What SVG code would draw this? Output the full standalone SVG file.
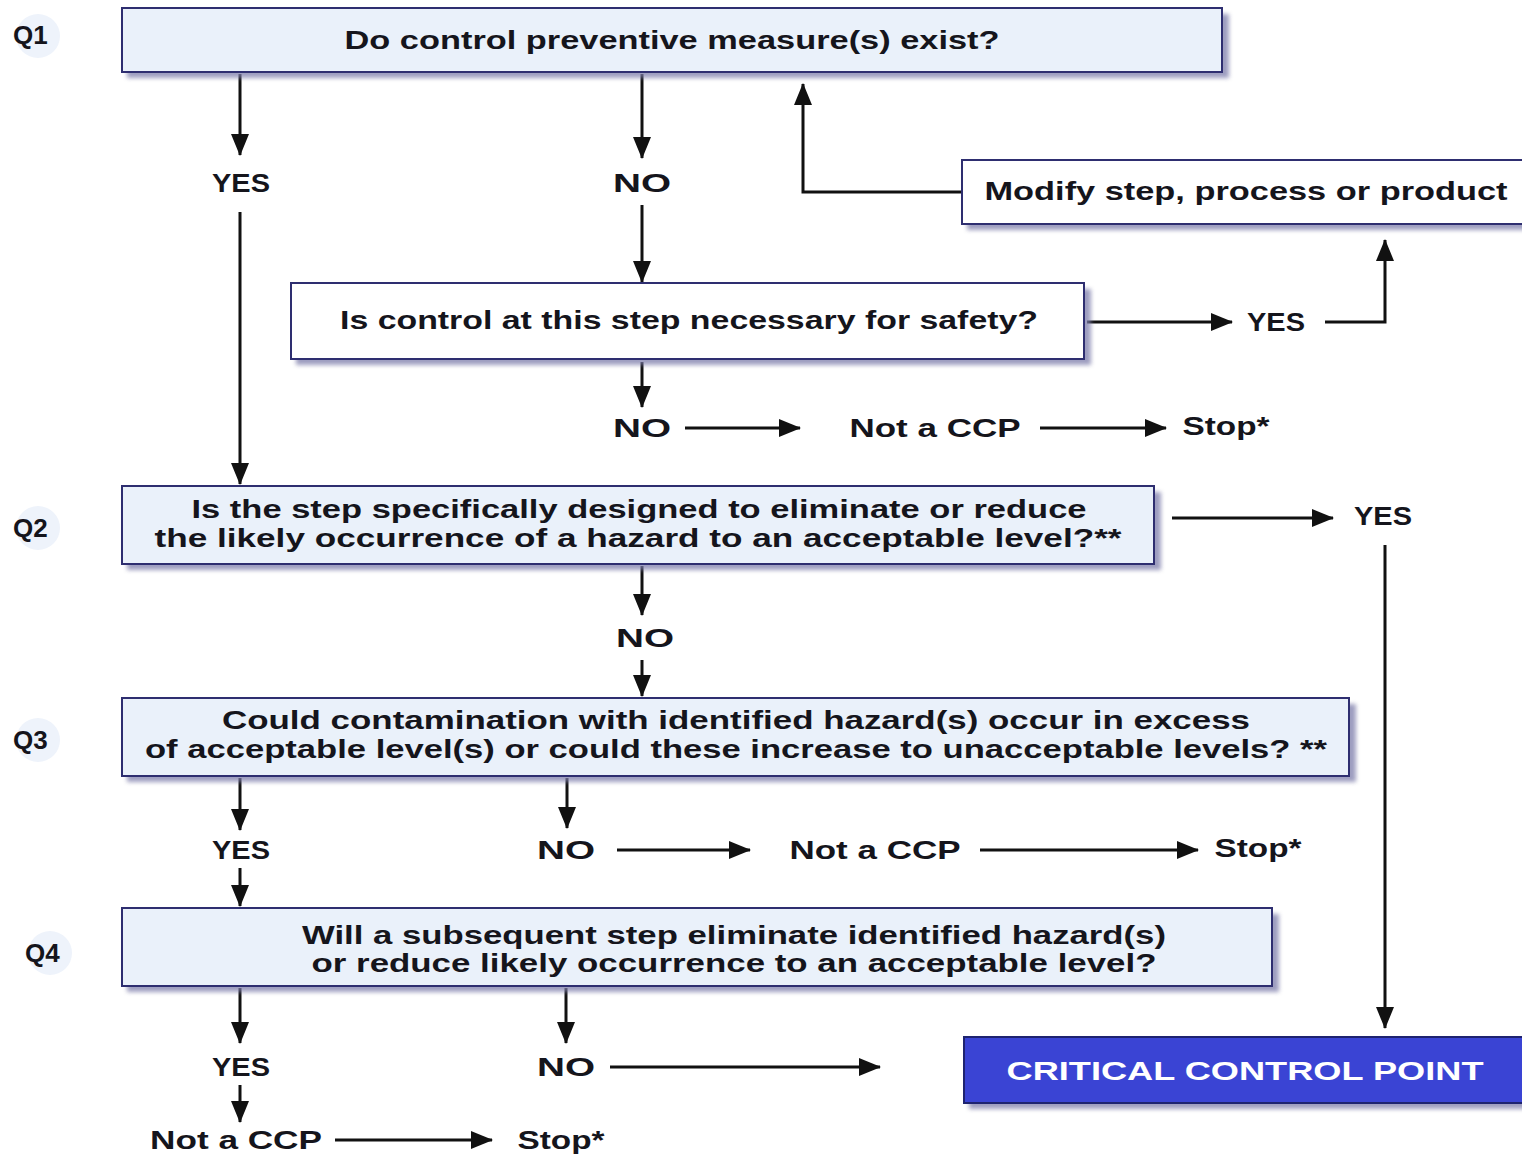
<svg xmlns="http://www.w3.org/2000/svg" width="1522" height="1157" viewBox="0 0 1522 1157">
<defs>
<marker id="ah" markerUnits="userSpaceOnUse" markerWidth="22" markerHeight="18" refX="21" refY="9" orient="auto">
<path d="M0,0 L22,9 L0,18 z" fill="#111"/>
</marker>
<filter id="sh" x="-5%" y="-20%" width="110%" height="150%"><feGaussianBlur stdDeviation="2"/></filter>
<style>
.t{font-family:"Liberation Sans",Arial,sans-serif;font-weight:bold;font-size:26px;fill:#15151c;text-anchor:middle}
.lab{font-family:"Liberation Sans",Arial,sans-serif;font-weight:bold;font-size:26px;fill:#15151c}
.bx{stroke:#2e2e70;stroke-width:2}
.q{fill:#eaf1fa}
.w{fill:#ffffff}
.shd{fill:#7e7eaa;opacity:0.75;filter:url(#sh)}
.c{fill:none;stroke:#111;stroke-width:3;marker-end:url(#ah)}
.glow{fill:#eef3fb}
</style>
</defs>
<rect width="1522" height="1157" fill="#ffffff"/>

<g id="qlabels">
<circle class="glow" cx="38" cy="36" r="22"/>
<text class="lab" x="13" y="44">Q1</text>
<circle class="glow" cx="38" cy="528" r="22"/>
<text class="lab" x="13" y="537">Q2</text>
<circle class="glow" cx="38" cy="740" r="22"/>
<text class="lab" x="13" y="749">Q3</text>
<circle class="glow" cx="50" cy="953" r="22"/>
<text class="lab" x="25" y="962">Q4</text>
</g>

<g id="connectors">
<path class="c" d="M240,74 V155"/>
<path class="c" d="M240,212 V484"/>
<path class="c" d="M642,74 V158"/>
<path class="c" d="M642,205 V282"/>
<path class="c" d="M962,192 H803 V84"/>
<path class="c" d="M1087,322 H1232"/>
<path class="c" d="M1325,322 H1385 V240"/>
<path class="c" d="M642,362 V407"/>
<path class="c" d="M685,428 H800"/>
<path class="c" d="M1040,428 H1166"/>
<path class="c" d="M1172,518 H1333"/>
<path class="c" d="M1385,545 V1028"/>
<path class="c" d="M642,566 V615"/>
<path class="c" d="M642,660 V696"/>
<path class="c" d="M240,778 V830"/>
<path class="c" d="M567,778 V828"/>
<path class="c" d="M617,850 H750"/>
<path class="c" d="M980,850 H1198"/>
<path class="c" d="M240,868 V906"/>
<path class="c" d="M240,988 V1043"/>
<path class="c" d="M566,988 V1043"/>
<path class="c" d="M610,1067 H880"/>
<path class="c" d="M240,1085 V1122"/>
<path class="c" d="M335,1140 H492"/>
</g>

<g id="q1">
<rect class="shd" x="127" y="14" width="1102" height="64"/>
<rect class="bx q" x="122" y="8" width="1100" height="64"/>
<text class="t" x="672" y="49" textLength="655" lengthAdjust="spacingAndGlyphs">Do control preventive measure(s) exist?</text>
</g>

<g id="modify">
<rect class="shd" x="967" y="166" width="560" height="64"/>
<rect class="bx w" x="962" y="160" width="565" height="64"/>
<text class="t" x="1246" y="200" textLength="523" lengthAdjust="spacingAndGlyphs">Modify step, process or product</text>
</g>

<g id="safety">
<rect class="shd" x="296" y="289" width="795" height="76"/>
<rect class="bx w" x="291" y="283" width="793" height="76"/>
<text class="t" x="689" y="329" textLength="698" lengthAdjust="spacingAndGlyphs">Is control at this step necessary for safety?</text>
</g>

<g id="q2">
<rect class="shd" x="127" y="492" width="1034" height="78"/>
<rect class="bx q" x="122" y="486" width="1032" height="78"/>
<text class="t" x="639" y="518" textLength="895" lengthAdjust="spacingAndGlyphs">Is the step specifically designed to eliminate or reduce</text>
<text class="t" x="638" y="547" textLength="967" lengthAdjust="spacingAndGlyphs">the likely occurrence of a hazard to an acceptable level?**</text>
</g>

<g id="q3">
<rect class="shd" x="127" y="704" width="1229" height="78"/>
<rect class="bx q" x="122" y="698" width="1227" height="78"/>
<text class="t" x="736" y="729" textLength="1028" lengthAdjust="spacingAndGlyphs">Could contamination with identified hazard(s) occur in excess</text>
<text class="t" x="736" y="758" textLength="1182" lengthAdjust="spacingAndGlyphs">of acceptable level(s) or could these increase to unacceptable levels? **</text>
</g>

<g id="q4">
<rect class="shd" x="127" y="914" width="1152" height="78"/>
<rect class="bx q" x="122" y="908" width="1150" height="78"/>
<text class="t" x="734" y="944" textLength="864" lengthAdjust="spacingAndGlyphs">Will a subsequent step eliminate identified hazard(s)</text>
<text class="t" x="734" y="972" textLength="845" lengthAdjust="spacingAndGlyphs">or reduce likely occurrence to an acceptable level?</text>
</g>

<g id="ccp">
<rect class="shd" x="969" y="1043" width="560" height="66"/>
<rect x="964" y="1037" width="565" height="66" fill="#3a44d4" stroke="#1e2370" stroke-width="2"/>
<text class="t" x="1245" y="1080" textLength="477" lengthAdjust="spacingAndGlyphs" style="fill:#ffffff">CRITICAL CONTROL POINT</text>
</g>

<g id="labels">
<text class="t" x="241" y="192" textLength="58" lengthAdjust="spacingAndGlyphs">YES</text>
<text class="t" x="642" y="192" textLength="58" lengthAdjust="spacingAndGlyphs">NO</text>
<text class="t" x="1276" y="331" textLength="58" lengthAdjust="spacingAndGlyphs">YES</text>
<text class="t" x="642" y="437" textLength="58" lengthAdjust="spacingAndGlyphs">NO</text>
<text class="t" x="935" y="437" textLength="171" lengthAdjust="spacingAndGlyphs">Not a CCP</text>
<text class="t" x="1226" y="435" textLength="87" lengthAdjust="spacingAndGlyphs">Stop*</text>
<text class="t" x="1383" y="525" textLength="58" lengthAdjust="spacingAndGlyphs">YES</text>
<text class="t" x="645" y="647" textLength="58" lengthAdjust="spacingAndGlyphs">NO</text>
<text class="t" x="241" y="859" textLength="58" lengthAdjust="spacingAndGlyphs">YES</text>
<text class="t" x="566" y="859" textLength="58" lengthAdjust="spacingAndGlyphs">NO</text>
<text class="t" x="875" y="859" textLength="171" lengthAdjust="spacingAndGlyphs">Not a CCP</text>
<text class="t" x="1258" y="857" textLength="87" lengthAdjust="spacingAndGlyphs">Stop*</text>
<text class="t" x="241" y="1076" textLength="58" lengthAdjust="spacingAndGlyphs">YES</text>
<text class="t" x="566" y="1076" textLength="58" lengthAdjust="spacingAndGlyphs">NO</text>
<text class="t" x="236" y="1149" textLength="172" lengthAdjust="spacingAndGlyphs">Not a CCP</text>
<text class="t" x="561" y="1149" textLength="87" lengthAdjust="spacingAndGlyphs">Stop*</text>
</g>
</svg>
